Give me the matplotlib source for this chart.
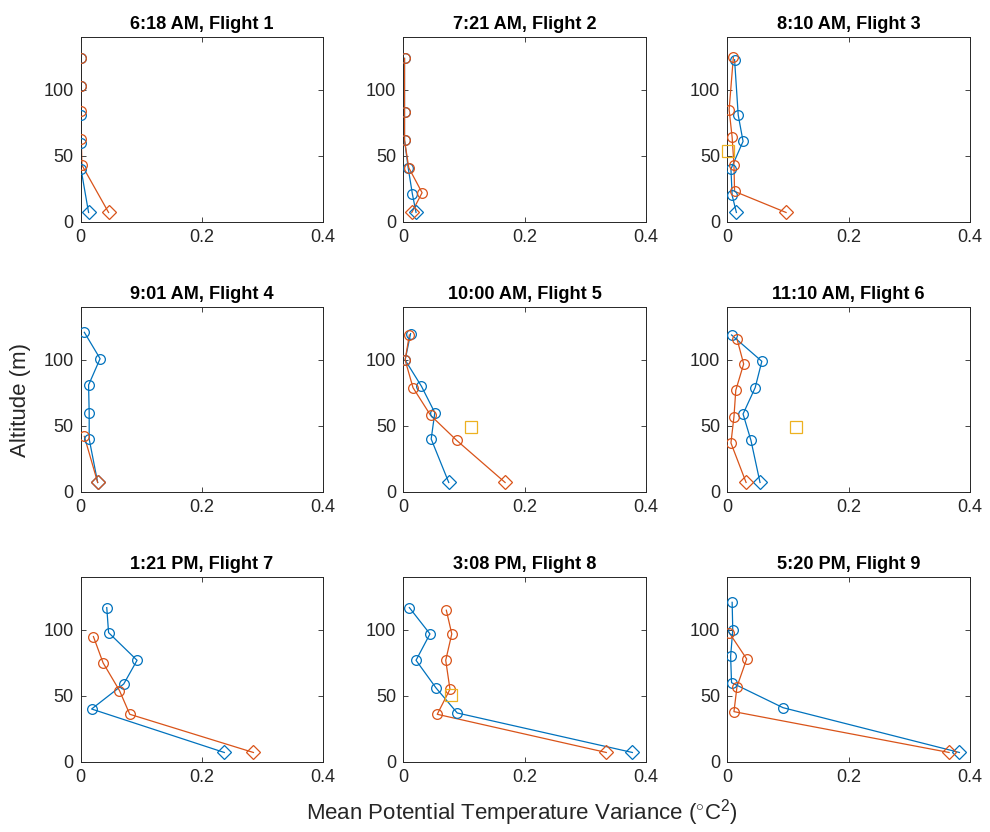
import matplotlib
matplotlib.use("Agg")
import matplotlib.pyplot as plt

plt.rcParams['font.family'] = ['Liberation Sans', 'DejaVu Sans']
plt.rcParams['mathtext.fontset'] = 'custom'
plt.rcParams['mathtext.rm'] = 'Liberation Sans'

titles = ["6:18 AM, Flight 1", "7:21 AM, Flight 2", "8:10 AM, Flight 3",
          "9:01 AM, Flight 4", "10:00 AM, Flight 5", "11:10 AM, Flight 6",
          "1:21 PM, Flight 7", "3:08 PM, Flight 8", "5:20 PM, Flight 9"]

# Profile 1 (blue): variance and altitude, lowest level first
blue_var = [
    [0.013, 0.0005, 0.0005, 0.0005, 0.0005, 0.0005],
    [0.021, 0.015, 0.008, 0.002, 0.002, 0.002],
    [0.015, 0.008, 0.006, 0.026, 0.018, 0.012],
    [0.028, 0.014, 0.014, 0.013, 0.032, 0.006],
    [0.075, 0.046, 0.052, 0.030, 0.003, 0.012],
    [0.054, 0.039, 0.026, 0.046, 0.057, 0.007],
    [0.237, 0.018, 0.071, 0.093, 0.046, 0.043],
    [0.378, 0.089, 0.054, 0.021, 0.044, 0.010],
    [0.383, 0.092, 0.007, 0.0055, 0.009, 0.008],
]
blue_alt = [
    [7, 40, 60, 81, 103, 124],
    [7, 21, 41, 62, 83, 124],
    [7, 20, 40, 61, 81, 123],
    [7, 40, 60, 81, 101, 121],
    [7, 40, 60, 80, 100, 120],
    [7, 39, 59, 79, 99, 119],
    [7, 40, 59, 77, 98, 117],
    [7, 37, 56, 77, 97, 117],
    [7, 41, 60, 80, 100, 121],
]

# Profile 2 (orange)
orange_var = [
    [0.046, 0.002, 0.001, 0.001, 0.0005, 0.0005],
    [0.014, 0.031, 0.009, 0.002, 0.002, 0.002],
    [0.097, 0.012, 0.011, 0.008, 0.003, 0.010],
    [0.028, 0.006],
    [0.168, 0.088, 0.045, 0.016, 0.003, 0.010],
    [0.031, 0.006, 0.011, 0.014, 0.027, 0.016],
    [0.285, 0.081, 0.064, 0.037, 0.021],
    [0.335, 0.056, 0.077, 0.070, 0.080, 0.071],
    [0.366, 0.011, 0.016, 0.032, 0.003],
]
orange_alt = [
    [7, 43, 63, 84, 103, 124],
    [7, 22, 41, 62, 83, 124],
    [7, 23, 43, 64, 85, 125],
    [7, 42],
    [7, 39, 58, 79, 100, 119],
    [7, 37, 57, 77, 97, 116],
    [7, 36, 54, 75, 95],
    [7, 36, 55, 77, 97, 115],
    [7, 38, 57, 78, 98],
]

# Single reference points (yellow squares), None where absent
square_var = [None, None, 0.001, None, 0.111, 0.114, None, 0.078, None]
square_alt = [None, None, 54, None, 49, 49, None, 51, None]

x_ticks = [0, 0.2, 0.4]
x_tick_labels = ["0", "0.2", "0.4"]
y_ticks = [0, 50, 100]

c_blue = "#0072BD"
c_orange = "#D95319"
c_yellow = "#EDB120"

W, H = 990, 832
fig = plt.figure(figsize=(W / 100, H / 100), dpi=100)

col_left = [80.7, 403.3, 727.3]
row_top = [37.3, 307.3, 577.3]
ax_w, ax_h = 242.4, 184.4

def draw_profile(ax, xs, ys, color):
    ax.plot(xs, ys, '-', color=color, lw=0.9, zorder=2)
    ax.plot(xs[1:], ys[1:], 'o', mfc='none', mec=color, ms=7, mew=0.9, zorder=3)
    ax.plot(xs[:1], ys[:1], 'D', mfc='none', mec=color, ms=7, mew=0.9, zorder=3)

for i in range(9):
    r, c = divmod(i, 3)
    left = col_left[c] / W
    bottom = (H - row_top[r] - ax_h) / H
    ax = fig.add_axes([left, bottom, ax_w / W, ax_h / H])
    draw_profile(ax, blue_var[i], blue_alt[i], c_blue)
    draw_profile(ax, orange_var[i], orange_alt[i], c_orange)
    if square_var[i] is not None:
        ax.plot([square_var[i]], [square_alt[i]], 's', mfc='none', mec=c_yellow,
                ms=8, mew=0.9, clip_on=False, zorder=4)
    ax.set_xlim(0, 0.4)
    ax.set_ylim(0, 140)
    ax.set_xticks(x_ticks)
    ax.set_xticklabels(x_tick_labels)
    ax.set_yticks(y_ticks)
    ax.tick_params(direction='in', top=True, right=True, length=3.5, width=0.6,
                   labelsize=13, colors='#262626', pad=5)
    for s in ax.spines.values():
        s.set_color('#262626')
        s.set_linewidth(0.7)
    ax.set_title(titles[i], fontsize=13.1, fontweight='bold', color='#000000', pad=6)

fig.text(21 / W, 1 - 400 / H, "Altitude (m)", rotation=90, ha='center', va='center',
         fontsize=16, color='#262626')
fig.text(522 / W, 1 - 813 / H, r"Mean Potential Temperature Variance ($^{\circ}$C$^{2}$)",
         ha='center', va='center', fontsize=16, color='#262626')

fig.savefig("out.png", dpi=100)
